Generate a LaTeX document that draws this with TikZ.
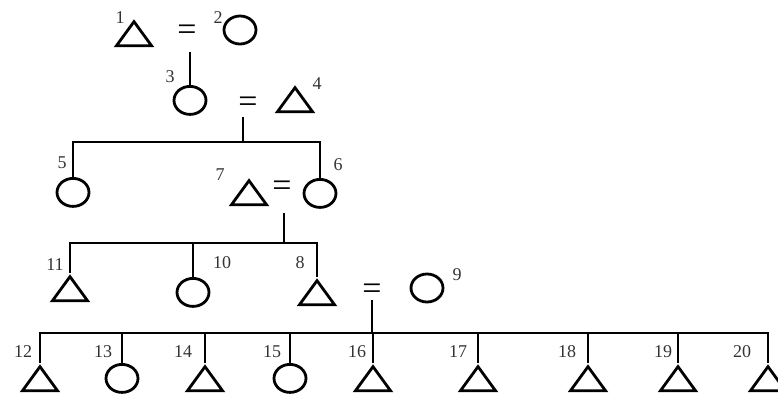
\documentclass[tikz,border=0pt]{standalone}
\usepackage{fontspec}
\setmainfont{Liberation Serif}
\usetikzlibrary{shapes.geometric}

\begin{document}
\begin{tikzpicture}[x=1pt,y=-1pt,
  male/.style={draw,isosceles triangle,shape border rotate=90,isosceles triangle stretches,
        minimum width=35pt,minimum height=24pt,inner sep=0pt,line width=2.8pt},
  female/.style={draw,ellipse,minimum width=32pt,minimum height=28pt,inner sep=0pt,line width=2.8pt},
  lbl/.style={font=\fontsize{18}{18}\selectfont,text=black!80,inner sep=0pt},
  eq/.style={font=\fontsize{34}{34}\selectfont,inner sep=0pt},
  line/.style={line width=2.2pt}]
  \useasboundingbox (0,0) rectangle (778,394);
  % Generation 1
  \node[male,anchor=apex] (n1) at (134,18) {};
  \node[female] (n2) at (240,30) {};
  \node[eq] (m12) at (187,33) {=};
  \node[lbl] (l1) at (120,18) {1};
  \node[lbl] (l2) at (218,18) {2};
  \coordinate (d12) at (190,52);
  % Generation 2
  \node[female,anchor=north] (n3) at (190,85) {};
  \node[male,anchor=apex] (n4) at (295,84) {};
  \node[eq] (m34) at (248,105) {=};
  \node[lbl] (l3) at (170,77) {3};
  \node[lbl] (l4) at (317,84) {4};
  \draw[line] (d12) -- (n3.north);
  \coordinate (d34) at (243,117);
  \coordinate (s34) at (243,142);
  % Generation 3
  \node[female,anchor=north] (n5) at (73,177) {};
  \node[female,anchor=north] (n6) at (320,178) {};
  \node[male,anchor=apex] (n7) at (249,177) {};
  \node[eq] (m76) at (282,189) {=};
  \node[lbl] (l5) at (62,163) {5};
  \node[lbl] (l6) at (338,165) {6};
  \node[lbl] (l7) at (220,175) {7};
  \draw[line] (d34) -- (s34);
  \draw[line] (n5.north) |- (s34) -| (n6.north);
  \coordinate (d76) at (284,213);
  \coordinate (s76) at (284,243);
  % Generation 4
  \node[male,anchor=apex] (n11) at (70,273) {};
  \node[female,anchor=north] (n10) at (193,277) {};
  \node[male,anchor=apex] (n8) at (317,277) {};
  \node[female] (n9) at (427,288) {};
  \node[eq] (m89) at (372,292) {=};
  \node[lbl] (l11) at (55,265) {11};
  \node[lbl] (l10) at (222,263) {10};
  \node[lbl] (l8) at (300,263) {8};
  \node[lbl] (l9) at (457,275) {9};
  \draw[line] (d76) -- (s76);
  \draw[line] (n11.apex) |- (s76) -| (n8.apex);
  \draw[line] (n10.north) -- (n10.north |- s76);
  \coordinate (d89) at (372,300);
  \coordinate (s89) at (372,333);
  % Generation 5
  \foreach \n/\x/\s/\a/\lx in {12/40/male/apex/23,13/122/female/north/103,14/205/male/apex/183,
      15/290/female/north/272,16/373/male/apex/357,17/478/male/apex/458,18/588/male/apex/567,
      19/678/male/apex/663,20/768/male/apex/742}{
    \node[\s,anchor=\a] (n\n) at (\x,363) {};
    \node[lbl] (l\n) at (\lx,352) {\n};
  }
  \draw[line] (d89) -- (s89);
  \draw[line] (n12.apex) |- (s89) -| (n20.apex);
  \foreach \n in {13,15} \draw[line] (n\n.north) -- (n\n.north |- s89);
  \foreach \n in {14,16,17,18,19} \draw[line] (n\n.apex) -- (n\n.apex |- s89);
\end{tikzpicture}
\end{document}
